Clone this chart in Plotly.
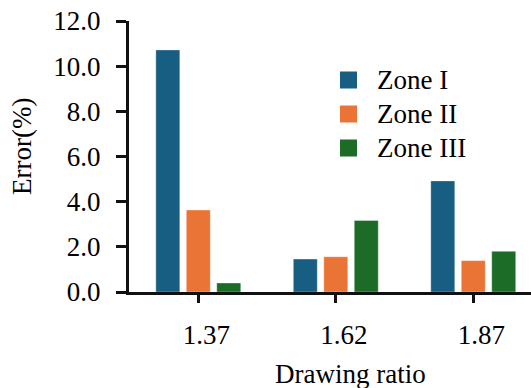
import plotly.graph_objects as go

# Error of each zone at the three drawing ratios
ratios = ["1.37", "1.62", "1.87"]
zone_i = [10.72, 1.46, 4.92]
zone_ii = [3.63, 1.56, 1.39]
zone_iii = [0.40, 3.17, 1.80]

zone_names = ["Zone I", "Zone II", "Zone III"]
zone_colors = ["#175E82", "#EA7435", "#1C6B27"]
y_ticks = [0, 2, 4, 6, 8, 10, 12]

FONT = "Liberation Serif, Times New Roman, serif"
FS = 27

fig = go.Figure()
for name, vals, col in zip(zone_names, [zone_i, zone_ii, zone_iii], zone_colors):
    fig.add_trace(go.Bar(
        x=ratios, y=vals, name=name,
        marker=dict(color=col, line=dict(color="rgba(255,255,255,0.35)", width=1)),
        showlegend=False,
    ))

# Legend drawn as swatches + labels inside the plot area
leg_x0, leg_y0, leg_dy, sw = 340, 80, 34, 17
for i, (name, col) in enumerate(zip(zone_names, zone_colors)):
    cy = leg_y0 + i * leg_dy
    fig.add_shape(type="rect", xref="paper", yref="paper",
                  x0=(leg_x0 - 129) / 402, x1=(leg_x0 + sw - 129) / 402,
                  y0=(292 - cy - sw / 2) / 271, y1=(292 - cy + sw / 2) / 271,
                  fillcolor=col, line=dict(width=0))
    fig.add_annotation(xref="paper", yref="paper",
                       x=(375 - 129) / 402, y=(292 - cy) / 271,
                       xanchor="left", yanchor="middle", showarrow=False,
                       text=name, font=dict(family=FONT, size=FS, color="#000"))

# Axis titles
fig.add_annotation(xref="paper", yref="paper", x=(350 - 129) / 402, y=(292 - 374) / 271,
                   xanchor="center", yanchor="middle", showarrow=False,
                   text="Drawing ratio", font=dict(family=FONT, size=FS, color="#000"))
fig.add_annotation(xref="paper", yref="paper", x=(22 - 129) / 402, y=(292 - 147) / 271,
                   xanchor="center", yanchor="middle", showarrow=False, textangle=-90,
                   text="Error(%)", font=dict(family=FONT, size=FS, color="#000"))

fig.update_layout(
    width=531, height=388,
    margin=dict(l=129, r=0, t=21, b=96),
    paper_bgcolor="white", plot_bgcolor="white",
    barmode="group", bargap=0.335, bargroupgap=0.213,
    font=dict(family=FONT, size=FS, color="#000"),
    xaxis=dict(
        type="category", range=[-0.504, 2.42],
        showline=True, linecolor="#111", linewidth=3,
        ticks="outside", ticklen=8, tickwidth=3, tickcolor="#111",
        ticklabelshift=8, ticklabelstandoff=9,
        showgrid=False, zeroline=False,
    ),
    yaxis=dict(
        range=[0, 12], tickvals=y_ticks, tickformat=".1f",
        showline=True, linecolor="#111", linewidth=3,
        ticks="outside", ticklen=10, tickwidth=3, tickcolor="#111",
        ticklabelstandoff=10,
        showgrid=False, zeroline=False,
    ),
)

fig.write_html("out.html")
